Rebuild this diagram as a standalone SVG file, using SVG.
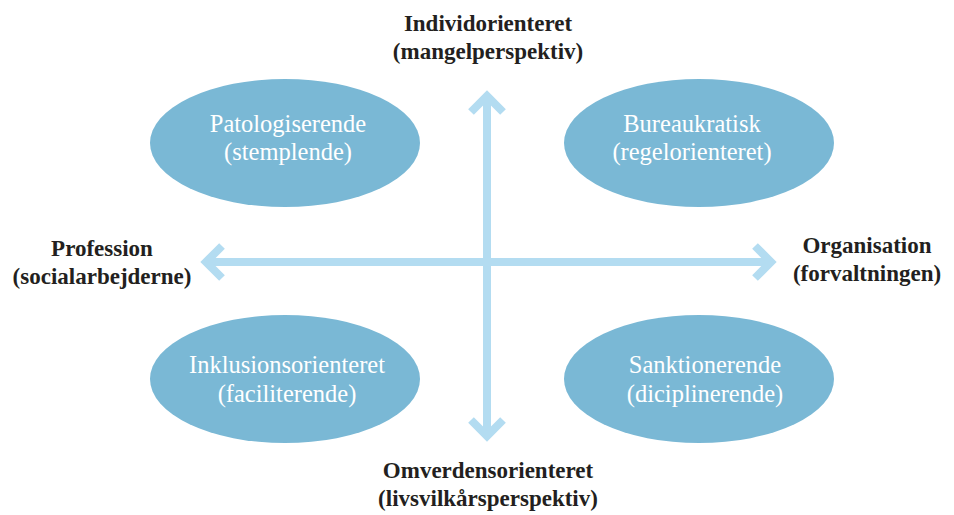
<svg xmlns="http://www.w3.org/2000/svg" width="954" height="515" viewBox="0 0 954 515">
<style>
.ell{fill:#7ab8d5}
.et{font-family:"Liberation Serif",serif;font-size:24.5px;fill:#ffffff;text-anchor:middle}
.lt{font-family:"Liberation Serif",serif;font-size:23px;font-weight:bold;fill:#231f20;text-anchor:middle}
.ax{stroke:#b3dcf1;stroke-width:8;fill:none}
.hd{stroke:#b3dcf1;stroke-width:8;fill:none;stroke-linejoin:miter;stroke-linecap:butt}
</style>
<rect width="954" height="515" fill="#ffffff"/>
<g id="n1"><ellipse class="ell" cx="285" cy="143" rx="135" ry="64"/><text class="et" x="288" y="132">Patologiserende</text><text class="et" x="288" y="160">(stemplende)</text></g>
<g id="n2"><ellipse class="ell" cx="699" cy="143" rx="135" ry="64"/><text class="et" x="692" y="132">Bureaukratisk</text><text class="et" x="692" y="160">(regelorienteret)</text></g>
<g id="n3"><ellipse class="ell" cx="285" cy="379" rx="135" ry="64"/><text class="et" x="287" y="373">Inklusionsorienteret</text><text class="et" x="287" y="402">(faciliterende)</text></g>
<g id="n4"><ellipse class="ell" cx="699" cy="379" rx="135" ry="64"/><text class="et" x="705" y="373">Sanktionerende</text><text class="et" x="705" y="402">(diciplinerende)</text></g>
<g id="connectors">
<line class="ax" x1="487" y1="96" x2="487" y2="436"/>
<line class="ax" x1="206" y1="262" x2="771" y2="262"/>
<polyline class="hd" points="471,112 487,96 503,112"/>
<polyline class="hd" points="471,420 487,436 503,420"/>
<polyline class="hd" points="222,246 206,262 222,278"/>
<polyline class="hd" points="755,246 771,262 755,278"/>
</g>
<g id="l1"><text class="lt" x="488" y="31">Individorienteret</text><text class="lt" x="488" y="59">(mangelperspektiv)</text></g>
<g id="l2"><text class="lt" x="102" y="256">Profession</text><text class="lt" x="102" y="284">(socialarbejderne)</text></g>
<g id="l3"><text class="lt" x="867" y="253">Organisation</text><text class="lt" x="867" y="281">(forvaltningen)</text></g>
<g id="l4"><text class="lt" x="488" y="478">Omverdensorienteret</text><text class="lt" x="488" y="506">(livsvilkårsperspektiv)</text></g>
</svg>
